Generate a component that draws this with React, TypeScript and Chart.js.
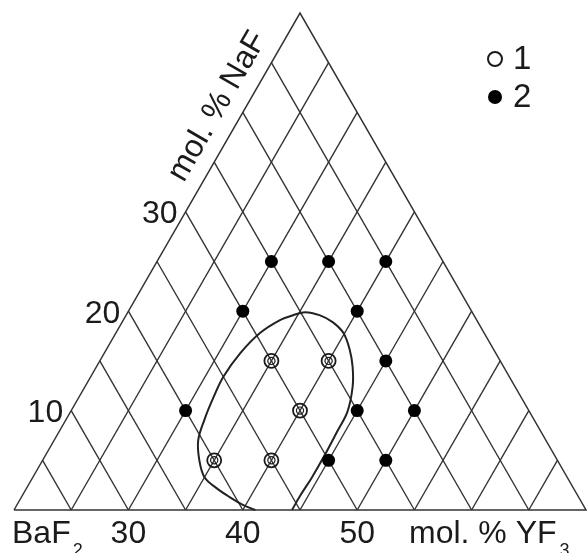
import React, { useEffect, useRef } from "react";
import { Chart, registerables } from "chart.js";

Chart.register(...registerables);

// Composition frame of the partial ternary diagram (mol. %)
const YF3_MIN = 20; // BaF2 corner
const YF3_MAX = 70; // right corner
const NAF_MAX = 50; // top corner

// Grid levels (constant YF3 and constant YF3+NaF lines)
const gridLevels = [25, 30, 35, 40, 45, 50, 55, 60, 65];

// Tick labels
const yf3TickLabels = [30, 40, 50];
const nafTickLabels = [10, 20, 30];

// Series 1 (open circles)
const series1Label = "1";
const series1YF3 = [35, 40, 40, 35, 40];
const series1NaF = [15, 15, 10, 5, 5];

// Series 2 (filled circles)
const series2Label = "2";
const series2YF3 = [30, 35, 40, 30, 40, 45, 30, 45, 50, 45, 50];
const series2NaF = [25, 25, 25, 20, 20, 15, 10, 10, 10, 5, 5];

// Boundary curve of the region
const boundaryYF3 = [41.1, 39.8, 38.2, 36.6, 35.0, 33.7, 32.6, 32.1, 31.8, 31.6, 31.9, 32.6, 33.7, 34.6, 35.5, 36.9, 38.4, 39.9, 41.3, 42.4, 43.4, 44.2, 44.3, 44.4, 44.4, 44.3, 44.3];
const boundaryNaF = [0, 0.5, 1.3, 2.2, 3.3, 5.0, 7.0, 9.1, 11.1, 13.4, 15.8, 17.8, 19.1, 19.6, 19.9, 19.6, 18.9, 17.8, 16.1, 14.4, 12.4, 9.9, 7.9, 5.5, 3.2, 1.5, 0];

const toXY = (yf3: number, naf: number) => ({ x: yf3 + naf / 2, y: naf });
const zipXY = (a: number[], b: number[]) => a.map((v, i) => toXY(v, b[i]));

const LINE = "#333333";
const INK = "#1b1b1b";
const FONT = "'Liberation Sans', Arial, sans-serif";

const labelPlugin = {
  id: "ternaryLabels",
  afterDraw(chart: any) {
    const { ctx } = chart;
    const xs = chart.scales.x;
    const ys = chart.scales.y;
    const px = (yf3: number, naf: number) => xs.getPixelForValue(yf3 + naf / 2);
    const py = (naf: number) => ys.getPixelForValue(naf);
    ctx.save();
    ctx.fillStyle = INK;

    // bottom axis
    const base = py(0) + 33;
    ctx.font = `32px ${FONT}`;
    ctx.textBaseline = "alphabetic";
    ctx.textAlign = "center";
    yf3TickLabels.forEach((v) => ctx.fillText(String(v), px(v, 0), base));

    ctx.textAlign = "left";
    const baX = px(YF3_MIN, 0) - 2;
    ctx.fillText("BaF", baX, base);
    const baW = ctx.measureText("BaF").width;
    const titleX = 409;
    ctx.fillText("mol. % YF", titleX, base);
    const tW = ctx.measureText("mol. % YF").width;
    ctx.font = `18px ${FONT}`;
    ctx.fillText("2", baX + baW + 2, base + 13);
    ctx.fillText("3", titleX + tW + 3, base + 13);

    // left axis ticks
    ctx.font = `32px ${FONT}`;
    ctx.textAlign = "right";
    nafTickLabels.forEach((v) => {
      ctx.fillText(String(v), px(YF3_MIN, v) - 8, py(v) + 11.5);
    });

    // left axis title, rotated along the edge
    const ang = Math.atan2(py(NAF_MAX) - py(0), px(YF3_MIN, NAF_MAX) - px(YF3_MIN, 0));
    const cx = px(YF3_MIN, 40.7) - 31;
    const cy = py(40.7);
    ctx.save();
    ctx.translate(cx, cy);
    ctx.rotate(ang);
    ctx.textAlign = "center";
    ctx.fillText("mol. % NaF", 0, 11);
    ctx.restore();

    // legend
    const lx = 495;
    const rows = [
      { label: series1Label, y: 59, open: true },
      { label: series2Label, y: 97, open: false },
    ];
    rows.forEach((r) => {
      ctx.beginPath();
      ctx.arc(lx, r.y, 7, 0, Math.PI * 2);
      if (r.open) {
        ctx.lineWidth = 2;
        ctx.strokeStyle = INK;
        ctx.stroke();
      } else {
        ctx.fillStyle = "#000";
        ctx.fill();
      }
      ctx.fillStyle = INK;
      ctx.font = `33px ${FONT}`;
      ctx.textAlign = "left";
      ctx.fillText(r.label, 513, r.y + 10);
    });
    ctx.restore();
  },
};

export default function App() {
  const ref = useRef<HTMLCanvasElement | null>(null);

  useEffect(() => {
    if (!ref.current) return;

    const lineDs = (data: { x: number; y: number }[], width = 1.4) => ({
      type: "scatter" as const,
      data,
      showLine: true,
      borderColor: LINE,
      borderWidth: width,
      pointRadius: 0,
      pointHoverRadius: 0,
      fill: false,
    });

    const gridSets: any[] = [];
    gridLevels.forEach((v) => {
      // constant YF3 (parallel to left edge)
      gridSets.push(lineDs([toXY(v, 0), toXY(v, YF3_MAX - v)]));
      // constant YF3+NaF (parallel to right edge)
      gridSets.push(lineDs([toXY(v, 0), toXY(YF3_MIN, v - YF3_MIN)]));
    });

    const outline = lineDs(
      [toXY(YF3_MIN, 0), toXY(YF3_MAX, 0), toXY(YF3_MIN, NAF_MAX), toXY(YF3_MIN, 0)],
      1.5
    );

    const pts1 = zipXY(series1YF3, series1NaF);
    const pts2 = zipXY(series2YF3, series2NaF);

    const chart = new Chart(ref.current, {
      type: "scatter",
      data: {
        datasets: [
          {
            label: series2Label,
            data: pts2,
            pointRadius: 6.5,
            pointBackgroundColor: "#000",
            pointBorderColor: "#000",
            pointBorderWidth: 0,
            showLine: false,
          },
          {
            label: series1Label + " inner",
            data: pts1,
            pointRadius: 3.6,
            pointBackgroundColor: "rgba(0,0,0,0)",
            pointBorderColor: INK,
            pointBorderWidth: 1.2,
            showLine: false,
          },
          {
            label: series1Label,
            data: pts1,
            pointRadius: 7,
            pointBackgroundColor: "rgba(255,255,255,0)",
            pointBorderColor: INK,
            pointBorderWidth: 1.8,
            showLine: false,
          },
          {
            ...lineDs(zipXY(boundaryYF3, boundaryNaF), 2),
            borderColor: "#222",
            tension: 0.35,
          },
          outline,
          ...gridSets,
        ] as any,
      },
      options: {
        animation: false,
        responsive: false,
        maintainAspectRatio: false,
        devicePixelRatio: 1,
        layout: { padding: 0, autoPadding: false },
        plugins: {
          legend: { display: false },
          tooltip: { enabled: false },
        },
        events: [],
        scales: {
          x: { type: "linear", display: false, min: 18.776, max: 70.087 },
          y: { type: "linear", display: false, min: -4.326, max: 51.308 },
        },
      },
      plugins: [labelPlugin],
    });

    return () => chart.destroy();
  }, []);

  return (
    <div style={{ position: "absolute", left: 0, top: 0, width: 587, height: 553, background: "#fff" }}>
      <canvas ref={ref} width={587} height={553} style={{ display: "block", width: 587, height: 553 }} />
    </div>
  );
}
